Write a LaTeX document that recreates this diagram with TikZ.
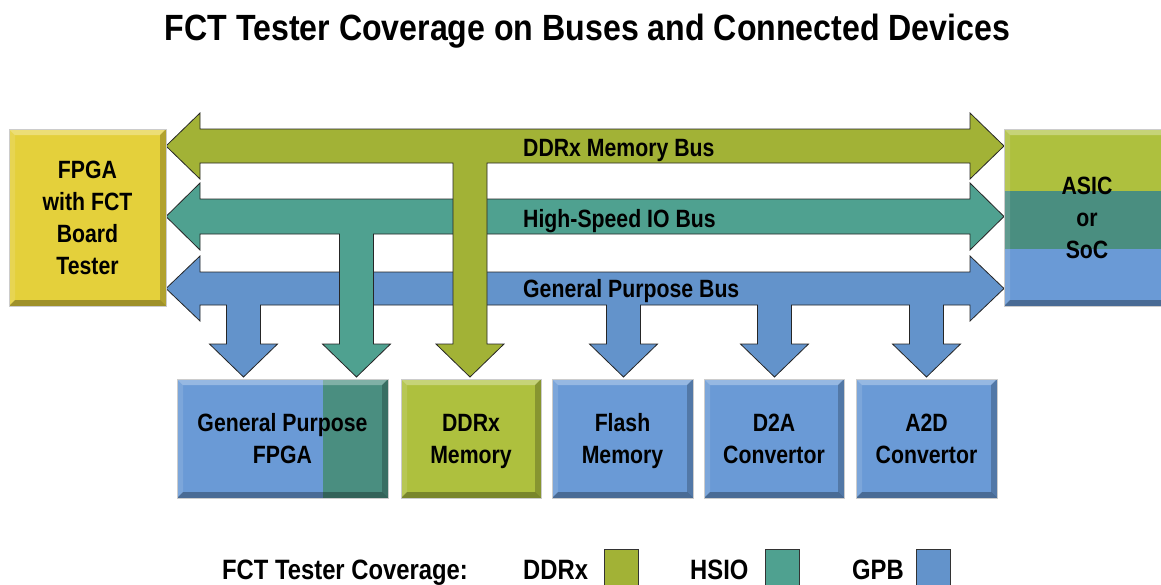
\documentclass[tikz,border=0pt]{standalone}
\usepackage{fontspec}
\setmainfont[FakeStretch=0.85]{Liberation Sans}
\newfontfamily\titlefam[FakeStretch=0.88]{Liberation Sans}
\usepackage{tikz}
\usepackage{xcolor}

\definecolor{ddrgreen}{HTML}{A2B236}
\definecolor{hsioteal}{HTML}{4FA190}
\definecolor{gpbblue}{HTML}{6393CB}
\definecolor{fpgayellow}{HTML}{E4D03B}
\definecolor{boxblue}{HTML}{6A9AD6}
\definecolor{boxgreen}{HTML}{AEC03E}
\definecolor{boxteal}{HTML}{4A8E80}

\newcommand{\titlefont}{\titlefam\bfseries\fontsize{36.5}{40}\selectfont}
\newcommand{\boxfont}{\bfseries\fontsize{25}{32}\selectfont}
\newcommand{\keyfont}{\bfseries\fontsize{28}{32}\selectfont}

\newcommand{\bevelcode}{%
  \path (path picture bounding box.north west) coordinate (bnw)
        (path picture bounding box.north east) coordinate (bne)
        (path picture bounding box.south west) coordinate (bsw)
        (path picture bounding box.south east) coordinate (bse);
  \fill[white,opacity=.3] (bnw) -- (bne) -- ([shift={(-6pt,-6pt)}]bne) -- ([shift={(6pt,-6pt)}]bnw) -- cycle;
  \fill[white,opacity=.12] (bnw) -- ([shift={(6pt,-6pt)}]bnw) -- ([shift={(6pt,6pt)}]bsw) -- (bsw) -- cycle;
  \fill[black,opacity=.3] (bsw) -- ([shift={(6pt,6pt)}]bsw) -- ([shift={(-6pt,6pt)}]bse) -- (bse) -- cycle;
  \fill[black,opacity=.22] (bse) -- ([shift={(-6pt,6pt)}]bse) -- ([shift={(-6pt,-6pt)}]bne) -- (bne) -- cycle;}

% block arrow: colour, shaft top, shaft bottom, stem centres (right to left)
\newcommand{\busarrow}[4]{%
  \draw[busline,fill=#1] (166,{(#2+#3)/2}) -- (200,{#2-16}) -- (200,#2) -- (970,#2)
    -- (970,{#2-16}) -- (1004,{(#2+#3)/2}) -- (970,{#3+16}) -- (970,#3)
    foreach \s in {#4} { -- ({\s+17},#3) -- ({\s+17},344) -- ({\s+34},344) -- (\s,377)
      -- ({\s-34},344) -- ({\s-17},344) -- ({\s-17},#3) }
    -- (200,#3) -- (200,{#3+16}) -- cycle;}

\tikzstyle{busline} = [draw=black!85, line width=0.8pt, line join=miter]
\tikzstyle{block} = [minimum height=119, inner sep=0pt, align=center, text depth=0pt,
  font=\boxfont, draw=black!20, line width=0.4pt, path picture={\bevelcode}]
\tikzstyle{key} = [draw=black!80, line width=0.8pt, minimum width=34, minimum height=40, inner sep=0pt]

\tikzset{
  asicbands/.style={path picture={
    \fill[boxgreen] (path picture bounding box.north west) rectangle ([yshift=-62pt]path picture bounding box.north east);
    \fill[boxteal] ([yshift=-62pt]path picture bounding box.north west) rectangle ([yshift=-120pt]path picture bounding box.north east);
    \fill[boxblue] ([yshift=-120pt]path picture bounding box.north west) rectangle (path picture bounding box.south east);
    \bevelcode}},
  gpsplit/.style={path picture={
    \fill[boxblue] (path picture bounding box.south west) rectangle (path picture bounding box.north east);
    \fill[boxteal] ([xshift=-65pt]path picture bounding box.north east) rectangle (path picture bounding box.south east);
    \bevelcode}}
}

\begin{document}
\begin{tikzpicture}[x=1pt,y=-1pt]
\useasboundingbox (0,0) rectangle (1161,584);
\clip (0,0) rectangle (1161,584);

\node[font=\titlefont, inner sep=0pt, anchor=base] (title) at (587.5,40) {FCT Tester Coverage on Buses and Connected Devices};

% buses, lowest first
\busarrow{gpbblue}{272}{305}{926.5,774.5,623.5,243.5}
\busarrow{hsioteal}{199}{234}{356.5}
\busarrow{ddrgreen}{129}{163}{470}

\node[anchor=base west, font=\boxfont, inner sep=0pt] (ddrlabel) at (523,156) {DDRx Memory Bus};
\node[anchor=base west, font=\boxfont, inner sep=0pt] (hsiolabel) at (523,227) {High-Speed IO Bus};
\node[anchor=base west, font=\boxfont, inner sep=0pt] (gpblabel) at (523,297) {General Purpose Bus};

\node[block, fill=fpgayellow, minimum width=157, minimum height=177] (fpga) at (87.5,217.5) {FPGA\\with FCT\\Board\\Tester};
\node[block, asicbands, minimum width=166, minimum height=177] (asic) at (1087,217.5) {ASIC\\or\\SoC};

\node[block, gpsplit, minimum width=211] (gpfpga) at (282.5,438.5) {General Purpose\\FPGA};
\node[block, fill=boxgreen, minimum width=140] (ddrmem) at (471,438.5) {DDRx\\Memory};
\node[block, fill=boxblue, minimum width=141] (flash) at (622.5,438.5) {Flash\\Memory};
\node[block, fill=boxblue, minimum width=140] (dtoa) at (774,438.5) {D2A\\Convertor};
\node[block, fill=boxblue, minimum width=141] (atod) at (926.5,438.5) {A2D\\Convertor};

% legend
\node[anchor=base west, font=\keyfont, inner sep=0pt] (keytitle) at (222,579) {FCT Tester Coverage:};
\foreach \name/\txt/\tx/\bx/\col in {ddr/DDRx/523/621/ddrgreen, hsio/HSIO/690/782.5/hsioteal, gpb/GPB/852/933/gpbblue}
{
  \node[anchor=base west, font=\keyfont, inner sep=0pt] (\name text) at (\tx,579) {\txt};
  \node[key, fill=\col] (\name key) at (\bx,569) {};
}

\end{tikzpicture}
\end{document}
